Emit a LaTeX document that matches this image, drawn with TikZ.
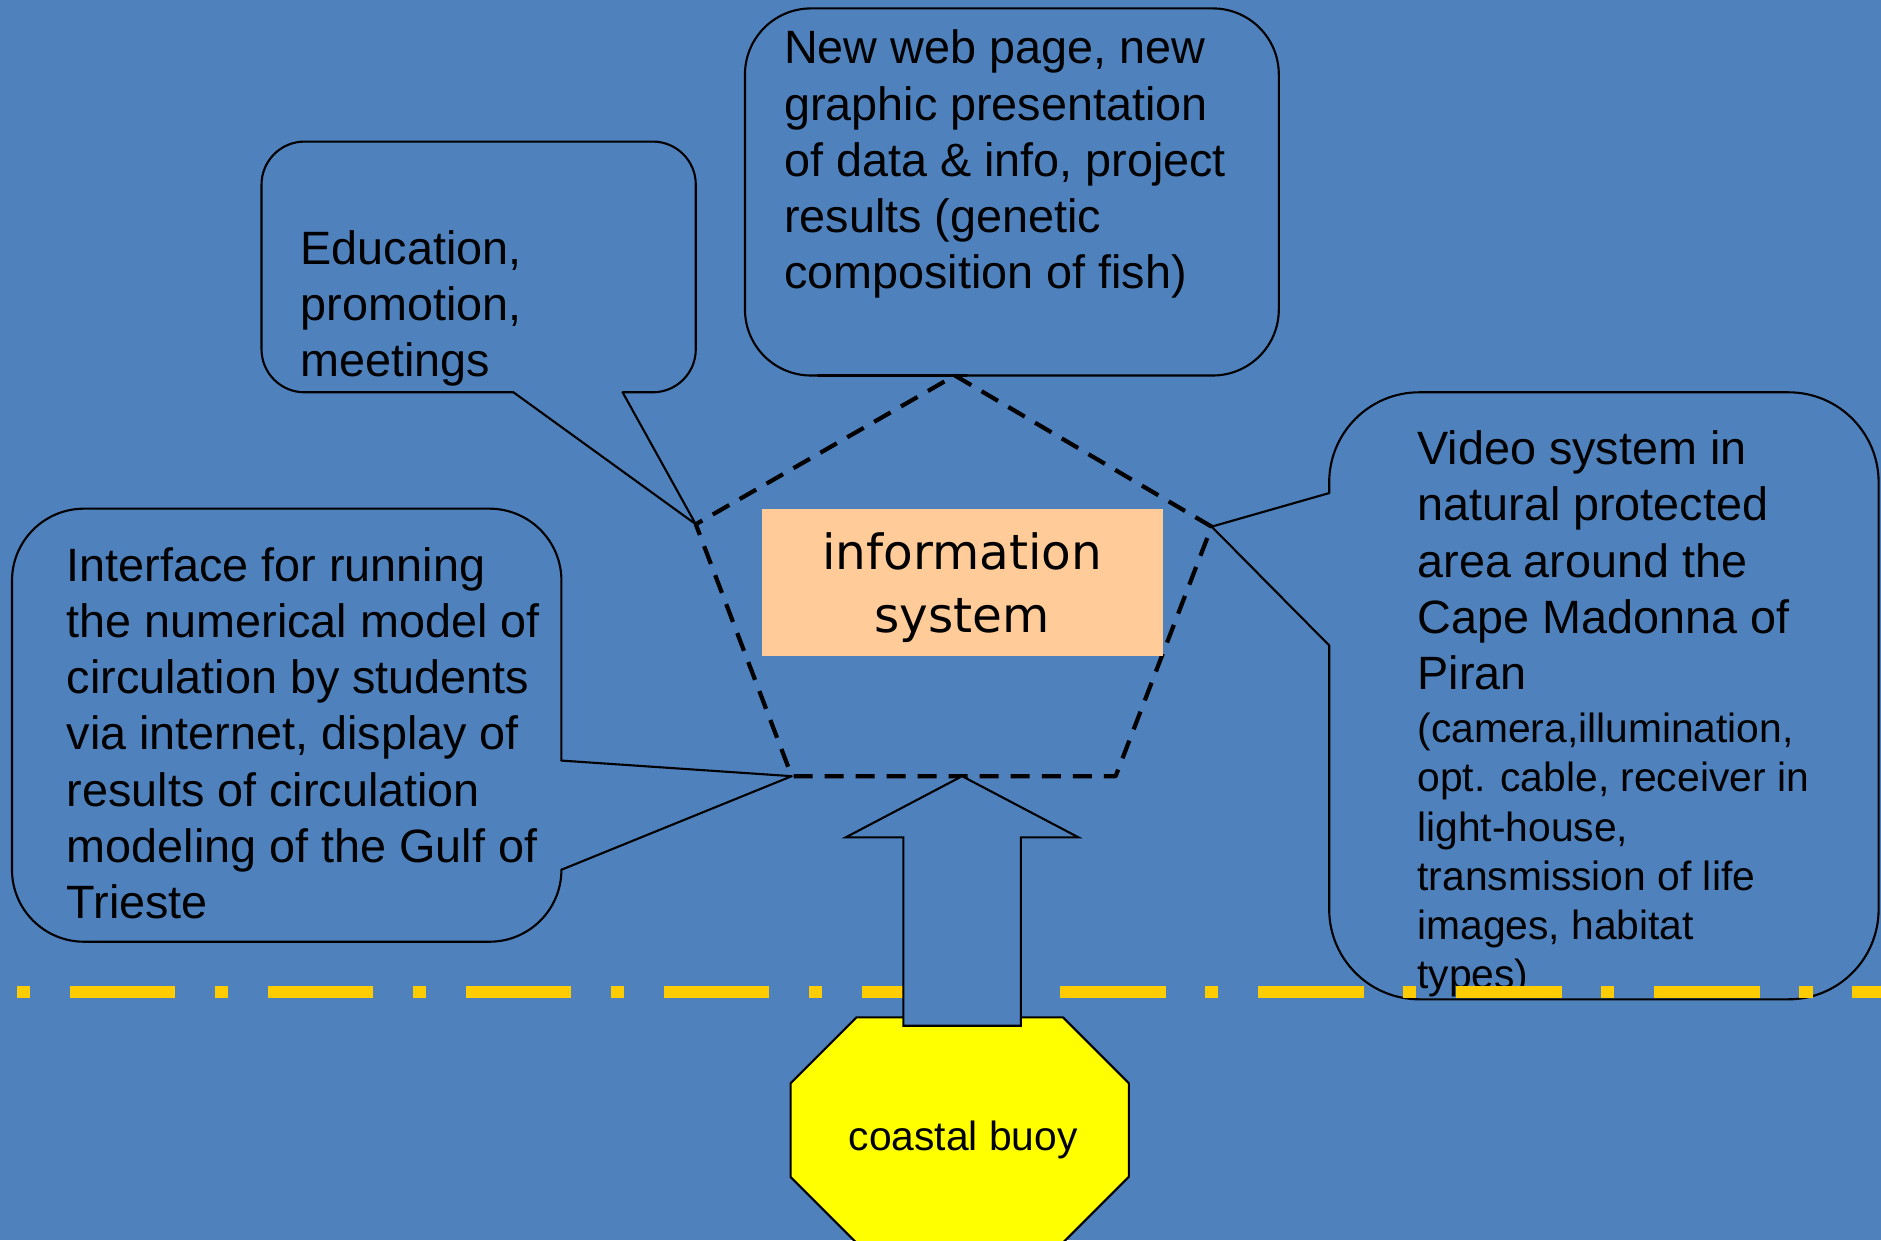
\documentclass[tikz,border=0pt]{standalone}
\usepackage{fontspec}
\setmainfont{Liberation Sans}
\newfontfamily\comicfont{DejaVu Sans}
\usetikzlibrary{positioning}
\definecolor{seablue}{RGB}{79,129,189}
\definecolor{linegold}{RGB}{255,204,0}
\definecolor{buoyyellow}{RGB}{255,255,0}
\definecolor{peach}{RGB}{255,204,153}

\begin{document}
\begin{tikzpicture}[line cap=round,line join=round,x=0.012cm,y=-0.012cm,
		bubble/.style={line width=0.6pt},
		bubtext/.style={anchor=north west,inner sep=0pt,align=left,font=\fontsize{13.3}{16}\selectfont},
		smalltext/.style={inner sep=0pt,align=left,font=\fontsize{11.6}{14}\selectfont},
		penta/.style={line width=1.2pt,line cap=butt,dash pattern=on 0.19cm off 0.12cm},
		infobox/.style={fill=peach,minimum width=4.01cm,minimum height=1.476cm,inner sep=0pt},
		infolabel/.style={inner sep=0pt,align=center,font=\comicfont\fontsize{13.8}{17.9}\selectfont}]
		\useasboundingbox (0,0) rectangle (1568,1034);
		\clip (0,0) rectangle (1568,1034);
		\fill [seablue] (0,0) rectangle (1568,1034);
		% corners of the pentagon
		\coordinate (pt) at (796,313);
		\coordinate (pr) at (1010,439);
		\coordinate (pbr) at (930,647);
		\coordinate (pbl) at (660,647);
		\coordinate (pl) at (580,437);
		% callouts
		\draw [bubble,rounded corners=0.66cm] (806,313) -- (1066,313) -- (1066,7) -- (621,7) -- (621,313) -- (682,313);
		\draw [bubble] (682,313) -- (pt) -- (806,313);
		\draw [bubble,rounded corners=0.43cm] (428,327) -- (218,327) -- (218,118) -- (580,118) -- (580,327) -- (519,327);
		\draw [bubble] (519,327) -- (pl) -- (428,327);
		\draw [bubble,rounded corners=0.72cm] (468,725) -- (468,785) -- (10,785) -- (10,424) -- (468,424) -- (468,634);
		\draw [bubble] (468,634) -- (pbl) -- (468,725);
		\draw [bubble,rounded corners=0.9cm] (1108,538) -- (1108,833) -- (1566,833) -- (1566,327) -- (1108,327) -- (1108,411);
		\draw [bubble] (1108,411) -- (pr) -- (1108,538);
		\node [bubtext] (web) at (653,24.5) {New web page, new\\graphic presentation\\of data \& info, project\\results (genetic\\composition of fish)};
		\node [bubtext] (edu) at (250,191.5) {Education,\\promotion,\\meetings};
		\node [bubtext] (model) at (55,455.5) {Interface for running\\the numerical model of\\circulation by students\\via internet, display of\\results of circulation\\modeling of the Gulf of\\Trieste};
		\node [bubtext] (video) at (1181,358.5) {Video system in\\natural protected\\area around the\\Cape Madonna of\\Piran};
		\node [smalltext,below=0.216cm of video.south west,anchor=north west] (videonote) {(camera,illumination,\\opt. cable, receiver in\\light-house,\\transmission of life\\images, habitat\\types)};
		% pentagon and box
		\draw [penta] (pt) -- (pr) -- (pbr) -- (pbl) -- (pl) -- cycle;
		\node [infobox] (info) at (802,485.5) {};
		\node [infolabel] (infotext) at ([yshift=-0.05cm]info.center) {information\\system};
		% sea line
		\draw [linegold,line width=0.12cm,line cap=butt,dash pattern=on 0.132cm off 0.396cm on 1.056cm off 0.396cm] (14,827) -- (1568,827);
		% buoy and arrow
		\draw [line width=0.6pt,fill=buoyyellow] (714,848) -- (886,848) -- (941,903) -- (941,981) -- (886,1036) -- (714,1036) -- (659,981) -- (659,903) -- cycle;
		\node [smalltext] (buoy) at (803,950) {coastal buoy};
		\draw [line width=0.6pt,line join=miter,fill=seablue] (802,647) -- (899,698) -- (851,698) -- (851,855) -- (753,855) -- (753,698) -- (705,698) -- cycle;
	\end{tikzpicture}
\end{document}
